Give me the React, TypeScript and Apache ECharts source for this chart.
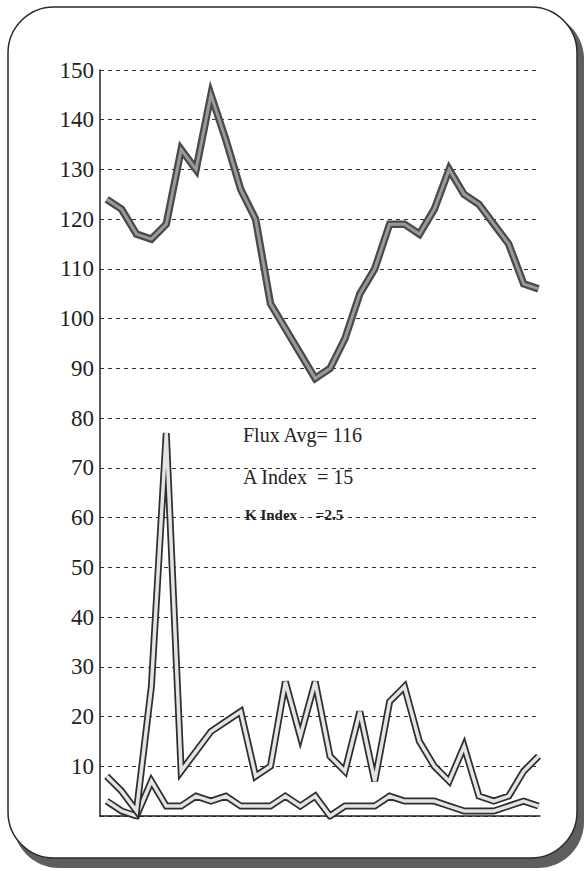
import React, { useEffect, useRef } from "react";
import * as echarts from "echarts";

const days = Array.from({ length: 30 }, (_, i) => String(i + 1));

const fluxValues = [
  124, 122, 117, 116, 119, 134, 130, 145, 136, 126,
  120, 103, 98, 93, 88, 90, 96, 105, 110, 119,
  119, 117, 122, 130, 125, 123, 119, 115, 107, 106,
];

const aIndexValues = [
  8, 5, 1, 26, 77, 9, 13, 17, 19, 21,
  8, 10, 27, 16, 27, 12, 9, 21, 7, 23,
  26, 15, 10, 7, 14, 4, 3, 4, 9, 12,
];

const kIndexValues = [
  3, 1, 0, 7, 2, 2, 4, 3, 4, 2,
  2, 2, 4, 2, 4, 0, 2, 2, 2, 4,
  3, 3, 3, 2, 1, 1, 1, 2, 3, 2,
];

const yMin = 0;
const yMax = 150;
const yInterval = 10;

const noteLines = ["Flux Avg= 116", "A Index  = 15", "K Index     =2.5"];

const SERIF = "'Liberation Serif', 'Times New Roman', serif";

export default function App() {
  const ref = useRef<HTMLDivElement>(null);

  useEffect(() => {
    if (!ref.current) return;
    const chart = echarts.init(ref.current, null, { renderer: "svg" });

    const toPairs = (vals: number[]) => vals.map((v, i) => [i, v]);

    const band = (
      name: string,
      vals: number[],
      outer: string,
      outerW: number,
      inner: string,
      innerW: number,
      z: number
    ) => [
      {
        name: name + "-outline",
        type: "line",
        data: toPairs(vals),
        symbol: "none",
        z,
        lineStyle: { color: outer, width: outerW, join: "miter" },
        silent: true,
      },
      {
        name: name + "-fill",
        type: "line",
        data: toPairs(vals),
        symbol: "none",
        z: z + 1,
        lineStyle: { color: inner, width: innerW, join: "miter" },
        silent: true,
      },
    ];

    chart.setOption({
      animation: false,
      backgroundColor: "#ffffff",
      graphic: [
        {
          type: "rect",
          z: -10,
          silent: true,
          shape: { x: 13, y: 13, width: 571, height: 855, r: 46 },
          style: { fill: "#5e5e5e" },
        },
        {
          type: "rect",
          z: -9,
          silent: true,
          shape: { x: 8, y: 7, width: 569, height: 851, r: 46 },
          style: { fill: "#ffffff", stroke: "#2a2a2a", lineWidth: 1.5 },
        },
        {
          type: "text",
          z: 20,
          x: 243,
          y: 435,
          style: {
            text: noteLines[0],
            font: `20px ${SERIF}`,
            fill: "#222",
            verticalAlign: "middle",
          },
        },
        {
          type: "text",
          z: 20,
          x: 243,
          y: 477,
          style: {
            text: noteLines[1],
            font: `20px ${SERIF}`,
            fill: "#222",
            verticalAlign: "middle",
          },
        },
        {
          type: "text",
          z: 20,
          x: 245,
          y: 515,
          style: {
            text: noteLines[2],
            font: `bold 15px ${SERIF}`,
            fill: "#222",
            verticalAlign: "middle",
          },
        },
      ],
      grid: { left: 100, right: 44, top: 70, bottom: 55, containLabel: false },
      xAxis: {
        type: "value",
        min: -0.45,
        max: days.length - 1 + 0.1,
        axisLine: { show: true, onZero: false, lineStyle: { color: "#222", width: 1.5 } },
        axisTick: { show: false },
        axisLabel: { show: false },
        splitLine: { show: false },
      },
      yAxis: {
        type: "value",
        min: yMin,
        max: yMax,
        interval: yInterval,
        axisLine: { show: true, onZero: false, lineStyle: { color: "#222", width: 1.5 } },
        axisTick: { show: false },
        axisLabel: {
          color: "#222",
          fontFamily: SERIF,
          fontSize: 23,
          margin: 6,
          formatter: (v: number) => (v === 0 ? "" : String(v)),
        },
        splitLine: {
          show: true,
          lineStyle: { color: "#333", width: 1, type: [4, 4] },
        },
      },
      series: [
        ...band("K Index", kIndexValues, "#2e2e2e", 7, "#e4e4e4", 3.5, 2),
        ...band("A Index", aIndexValues, "#2e2e2e", 7, "#e4e4e4", 3.5, 4),
        ...band("Flux", fluxValues, "#4a4a4a", 7.5, "#9a9a9a", 3, 6),
      ],
    });

    return () => chart.dispose();
  }, []);

  return (
    <div
      ref={ref}
      style={{ position: "fixed", left: 0, top: 0, width: 584, height: 871 }}
    />
  );
}
